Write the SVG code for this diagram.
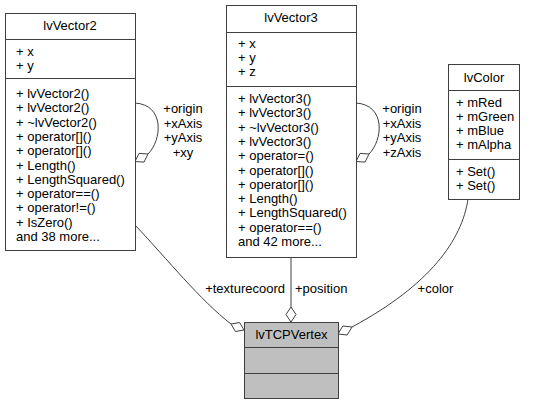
<svg xmlns="http://www.w3.org/2000/svg" width="534" height="404" viewBox="0 0 534 404">
<style>
text{font-family:"Liberation Sans",Arial,sans-serif;font-size:13px;fill:#000}
.t{text-anchor:middle}
.box{fill:#fff;stroke:#404040;stroke-width:1}
.hl{fill:#bfbfbf;stroke:#404040;stroke-width:1}
.div{stroke:#404040;stroke-width:1}
.e{fill:none;stroke:#404040;stroke-width:1}
.d{fill:#fff;stroke:#404040;stroke-width:1}
</style>
<rect width="534" height="404" fill="#fff"/>
<g id="edges">
<path class="e" d="M135,103 C165,105 162,140 148,154"/>
<polygon class="d" points="135,161.5 144,162.1 148,154 139,153.4"/>
<text class="t" x="183" y="113">+origin</text>
<text class="t" x="183" y="127.5">+xAxis</text>
<text class="t" x="183" y="142">+yAxis</text>
<text class="t" x="183" y="156.5">+xy</text>
<path class="e" d="M356,103 C386,105 383,140 369,154"/>
<polygon class="d" points="356,161.5 365,162.1 369,154 360,153.4"/>
<text class="t" x="402" y="113">+origin</text>
<text class="t" x="402" y="127.5">+xAxis</text>
<text class="t" x="402" y="142">+yAxis</text>
<text class="t" x="402" y="156.5">+zAxis</text>
<path class="e" d="M135,225 C168,260 200,300 231,324"/>
<polygon class="d" points="244,330 235.4,331.5 231,324 239.6,322.5"/>
<text x="285" y="292.5" text-anchor="end">+texturecoord</text>
<path class="e" d="M291,257 L291,307"/>
<polygon class="d" points="291,322 286,314.5 291,307 296,314.5"/>
<text x="295" y="292.5">+position</text>
<path class="e" d="M468,199 C462,240 430,285 352,327"/>
<polygon class="d" points="338,334 347.2,335 352,327 342.8,326"/>
<text class="t" x="435.5" y="292.5">+color</text>
</g>
<g id="lvVector2">
<rect class="box" x="5.5" y="13.5" width="130" height="237"/>
<line class="div" x1="5.5" y1="39.5" x2="135.5" y2="39.5"/>
<line class="div" x1="5.5" y1="78.5" x2="135.5" y2="78.5"/>
<text class="t" x="70" y="30">lvVector2</text>
<text x="16" y="56">+ x</text>
<text x="16" y="70">+ y</text>
<text x="16" y="98">+ lvVector2()</text>
<text x="16" y="112.3">+ lvVector2()</text>
<text x="16" y="126.6">+ ~lvVector2()</text>
<text x="16" y="140.9">+ operator[]()</text>
<text x="16" y="155.2">+ operator[]()</text>
<text x="16" y="169.5">+ Length()</text>
<text x="16" y="183.8">+ LengthSquared()</text>
<text x="16" y="198.1">+ operator==()</text>
<text x="16" y="212.4">+ operator!=()</text>
<text x="16" y="226.7">+ IsZero()</text>
<text x="16" y="241">and 38 more...</text>
</g>
<g id="lvVector3">
<rect class="box" x="226.5" y="5.5" width="130" height="252"/>
<line class="div" x1="226.5" y1="32.5" x2="356.5" y2="32.5"/>
<line class="div" x1="226.5" y1="86.5" x2="356.5" y2="86.5"/>
<text class="t" x="291" y="21.5">lvVector3</text>
<text x="238" y="48">+ x</text>
<text x="238" y="62">+ y</text>
<text x="238" y="76">+ z</text>
<text x="238" y="103">+ lvVector3()</text>
<text x="238" y="117.3">+ lvVector3()</text>
<text x="238" y="131.6">+ ~lvVector3()</text>
<text x="238" y="145.9">+ lvVector3()</text>
<text x="238" y="160.2">+ operator=()</text>
<text x="238" y="174.5">+ operator[]()</text>
<text x="238" y="188.8">+ operator[]()</text>
<text x="238" y="203.1">+ Length()</text>
<text x="238" y="217.4">+ LengthSquared()</text>
<text x="238" y="231.7">+ operator==()</text>
<text x="238" y="246">and 42 more...</text>
</g>
<g id="lvColor">
<rect class="box" x="448.5" y="64.5" width="71" height="135"/>
<line class="div" x1="448.5" y1="90.5" x2="519.5" y2="90.5"/>
<line class="div" x1="448.5" y1="159.5" x2="519.5" y2="159.5"/>
<text class="t" x="484" y="82">lvColor</text>
<text x="456" y="106.5">+ mRed</text>
<text x="456" y="120.8">+ mGreen</text>
<text x="456" y="135.1">+ mBlue</text>
<text x="456" y="149.4">+ mAlpha</text>
<text x="456" y="175.5">+ Set()</text>
<text x="456" y="189.8">+ Set()</text>
</g>
<g id="lvTCPVertex">
<rect class="hl" x="244.5" y="322.5" width="94" height="76"/>
<line class="div" x1="244.5" y1="347.5" x2="338.5" y2="347.5"/>
<line class="div" x1="244.5" y1="373.5" x2="338.5" y2="373.5"/>
<text class="t" x="291.5" y="339">lvTCPVertex</text>
</g>
</svg>
